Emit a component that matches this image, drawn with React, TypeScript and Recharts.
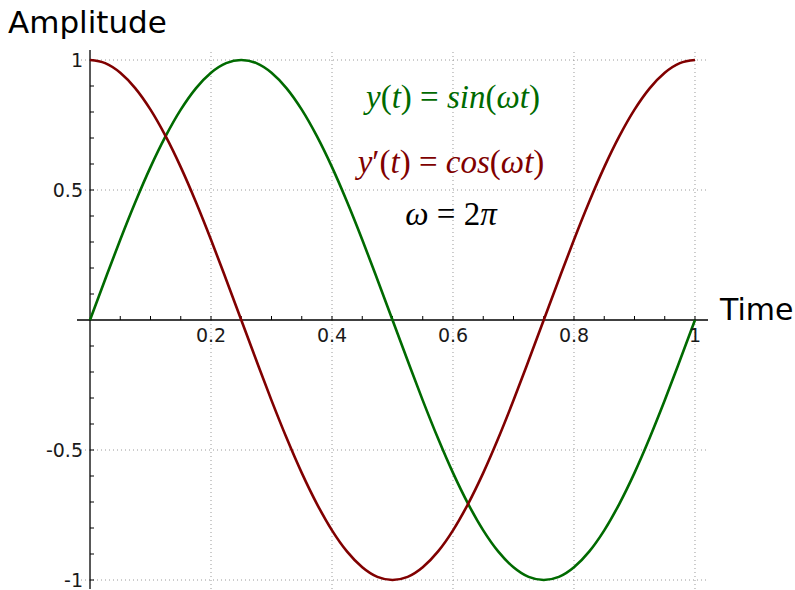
import React from 'react';
import { LineChart, Line, XAxis, YAxis, ReferenceLine } from 'recharts';

// samples, t in [0, 1]
const time = [
  0, 0.025, 0.05, 0.075, 0.1, 0.125, 0.15, 0.175, 0.2, 0.225,
  0.25, 0.275, 0.3, 0.325, 0.35, 0.375, 0.4, 0.425, 0.45, 0.475,
  0.5, 0.525, 0.55, 0.575, 0.6, 0.625, 0.65, 0.675, 0.7, 0.725,
  0.75, 0.775, 0.8, 0.825, 0.85, 0.875, 0.9, 0.925, 0.95, 0.975, 1,
];
const sinValues = [
  0, 0.156, 0.309, 0.454, 0.588, 0.707, 0.809, 0.891, 0.951, 0.988,
  1, 0.988, 0.951, 0.891, 0.809, 0.707, 0.588, 0.454, 0.309, 0.156,
  0, -0.156, -0.309, -0.454, -0.588, -0.707, -0.809, -0.891, -0.951, -0.988,
  -1, -0.988, -0.951, -0.891, -0.809, -0.707, -0.588, -0.454, -0.309, -0.156, 0,
];
const cosValues = [
  1, 0.988, 0.951, 0.891, 0.809, 0.707, 0.588, 0.454, 0.309, 0.156,
  0, -0.156, -0.309, -0.454, -0.588, -0.707, -0.809, -0.891, -0.951, -0.988,
  -1, -0.988, -0.951, -0.891, -0.809, -0.707, -0.588, -0.454, -0.309, -0.156,
  0, 0.156, 0.309, 0.454, 0.588, 0.707, 0.809, 0.891, 0.951, 0.988, 1,
];

const xTicks = [0.2, 0.4, 0.6, 0.8, 1];
const yTicks = [-1, -0.5, 0.5, 1];
const xMinorTicks = [
  0.05, 0.1, 0.15, 0.2, 0.25, 0.3, 0.35, 0.4, 0.45, 0.5,
  0.55, 0.6, 0.65, 0.7, 0.75, 0.8, 0.85, 0.9, 0.95, 1,
];
const yMinorTicks = [
  -1, -0.9, -0.8, -0.7, -0.6, -0.5, -0.4, -0.3, -0.2, -0.1,
  0.1, 0.2, 0.3, 0.4, 0.5, 0.6, 0.7, 0.8, 0.9, 1,
];

const data = time.map((t, i) => ({ t, sin: sinValues[i], cos: cosValues[i] }));

const W = 795;
const H = 590;
const margin = { top: 50, right: 87, bottom: 0, left: 76 };
const plotW = W - margin.left - margin.right - 1;
const plotH = H - margin.top - margin.bottom - 1;
const xDomain: [number, number] = [-0.0215, 1.0215];
const yDomain: [number, number] = [-1.0346, 1.0385];

// pixel position of the origin, where the axes cross
const X0 = margin.left + 1 + ((0 - xDomain[0]) / (xDomain[1] - xDomain[0])) * plotW;
const Y0 = margin.top + ((yDomain[1] - 0) / (yDomain[1] - yDomain[0])) * plotH;
// tick mark length, in data units
const xTickLen = (4 / plotH) * (yDomain[1] - yDomain[0]);
const yTickLen = (4 / plotW) * (xDomain[1] - xDomain[0]);

const GREEN = '#006a00';
const RED = '#800000';
const tickFont = { fontFamily: 'DejaVu Sans', fontSize: 19, fill: '#1a1a1a' };

const XTick = (props: any) => (
  <text x={props.x} y={Y0 + 22} textAnchor="middle" {...tickFont}>
    {props.payload.value}
  </text>
);

const YTick = (props: any) => (
  <text x={X0 - 7} y={props.y} dy={7} textAnchor="end" {...tickFont}>
    {props.payload.value}
  </text>
);

export default function App() {
  return (
    <div style={{ position: 'relative', width: W, height: H }}>
      <style>{'body{margin:0}'}</style>
      <LineChart width={W} height={H} data={data} margin={margin}>
        <XAxis
          dataKey="t"
          type="number"
          domain={xDomain}
          allowDataOverflow
          ticks={xTicks}
          interval={0}
          height={1}
          axisLine={false}
          tickLine={false}
          tick={XTick}
        />
        <YAxis
          type="number"
          domain={yDomain}
          allowDataOverflow
          ticks={yTicks}
          interval={0}
          width={1}
          axisLine={false}
          tickLine={false}
          tick={YTick}
        />
        {xTicks.map((v) => (
          <ReferenceLine key={`xg${v}`} x={v} stroke="#9a9a9a" strokeDasharray="1 3" />
        ))}
        {yTicks.map((v) => (
          <ReferenceLine key={`yg${v}`} y={v} stroke="#9a9a9a" strokeDasharray="1 3" />
        ))}
        <ReferenceLine y={0} stroke="#000" strokeWidth={1.3} />
        <ReferenceLine x={0} stroke="#000" strokeWidth={1.3} />
        {xMinorTicks.map((v) => (
          <ReferenceLine key={`xt${v}`} segment={[{ x: v, y: 0 }, { x: v, y: xTickLen }]} stroke="#000" />
        ))}
        {yMinorTicks.map((v) => (
          <ReferenceLine key={`yt${v}`} segment={[{ x: 0, y: v }, { x: yTickLen, y: v }]} stroke="#000" />
        ))}
        <Line type="monotone" dataKey="sin" stroke={GREEN} strokeWidth={2.6} dot={false} isAnimationActive={false} />
        <Line type="monotone" dataKey="cos" stroke={RED} strokeWidth={2.6} dot={false} isAnimationActive={false} />
      </LineChart>
      <svg width={W} height={H} style={{ position: 'absolute', left: 0, top: 0, pointerEvents: 'none' }}>
        <text x={8} y={33} fontFamily="DejaVu Sans" fontSize={31} fill="#000">Amplitude</text>
        <text x={720} y={320} fontFamily="DejaVu Sans" fontSize={30} fill="#000">Time</text>
        <g fontFamily="Liberation Serif" fontSize={33}>
          <text x={453} y={108} textAnchor="middle" fill={GREEN}>
            <tspan fontStyle="italic">y</tspan>(<tspan fontStyle="italic">t</tspan>) = <tspan fontStyle="italic">sin</tspan>(<tspan fontStyle="italic">ωt</tspan>)
          </text>
          <text x={451} y={173} textAnchor="middle" fill={RED}>
            <tspan fontStyle="italic">y</tspan>′(<tspan fontStyle="italic">t</tspan>) = <tspan fontStyle="italic">cos</tspan>(<tspan fontStyle="italic">ωt</tspan>)
          </text>
          <text x={451} y={225} textAnchor="middle" fill="#000">
            <tspan fontStyle="italic">ω</tspan> = 2<tspan fontStyle="italic">π</tspan>
          </text>
        </g>
      </svg>
    </div>
  );
}
